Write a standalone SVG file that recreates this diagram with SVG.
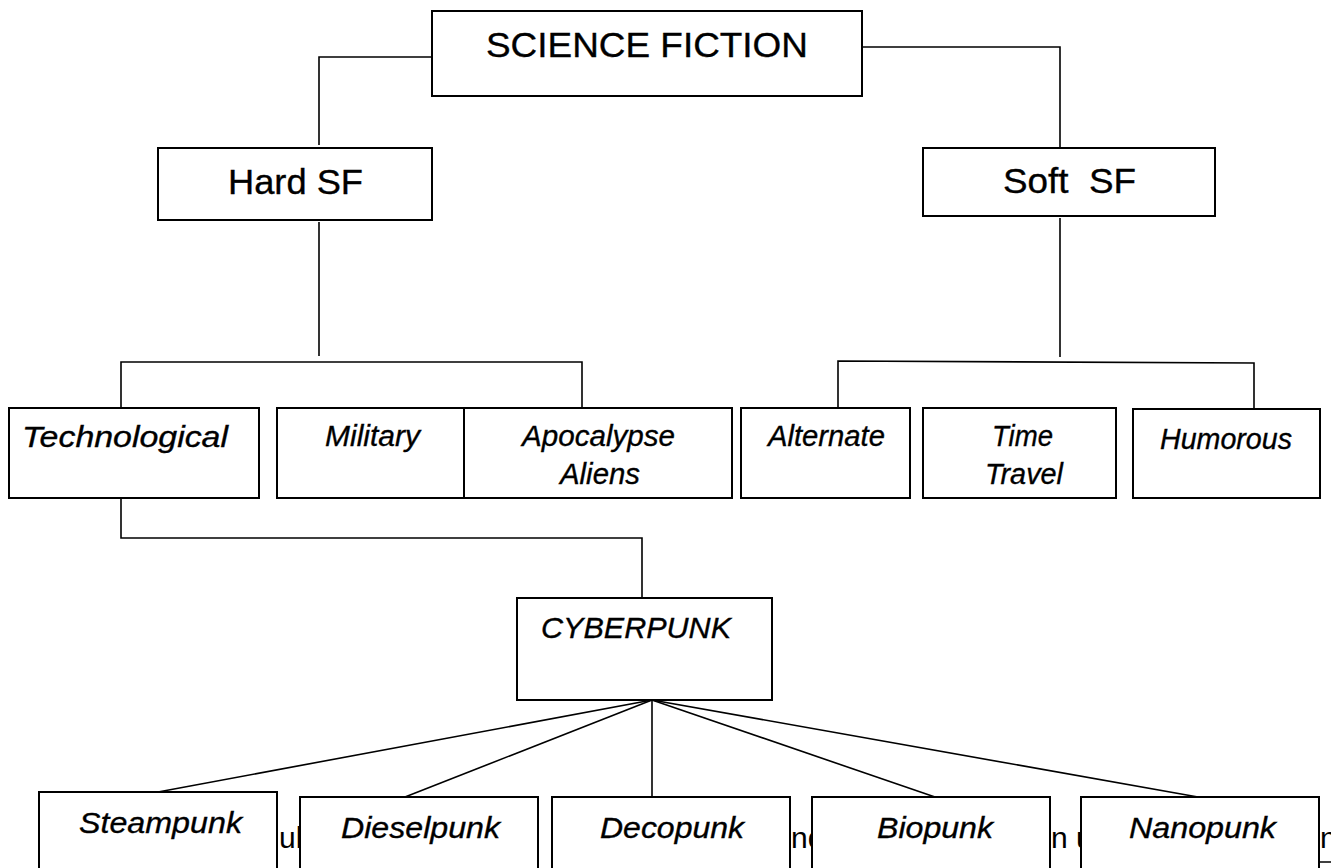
<svg xmlns="http://www.w3.org/2000/svg" width="1331" height="868" viewBox="0 0 1331 868">
<style>
.box{fill:#fff;stroke:#000;stroke-width:2}
.ln{fill:none;stroke:#000;stroke-width:1.6}
.t{font-family:"Liberation Sans",Arial,sans-serif;fill:#000;stroke:#000;stroke-width:0.35}
.big{font-size:35px}
.it{font-size:30px;font-style:italic}
.bg{font-family:"Liberation Sans",Arial,sans-serif;font-size:30px;fill:#000}
</style>
<rect width="1331" height="868" fill="#fff"/>
<g id="background-fragments">
<text class="bg" x="279" y="848">ul</text>
<text class="bg" x="791" y="848">nd</text>
<text class="bg" x="1051" y="848" xml:space="preserve">n u</text>
<text class="bg" x="1320" y="848">n</text>
<line x1="1319" y1="862" x2="1331" y2="862" stroke="#000" stroke-width="1.5"/>
</g>
<g id="connectors">
<polyline class="ln" points="432,57 319,57 319,145"/>
<polyline class="ln" points="861,47 1060,47 1060,148"/>
<line class="ln" x1="319" y1="222" x2="319" y2="356"/>
<polyline class="ln" points="121,408 121,362 582,362 582,408"/>
<line class="ln" x1="1060" y1="218" x2="1060" y2="357"/>
<polyline class="ln" points="838,408 838,361 1254,363 1254,408"/>
<polyline class="ln" points="121,498 121,538 642,538 642,598"/>
<line class="ln" x1="652" y1="700" x2="158" y2="792"/>
<line class="ln" x1="652" y1="700" x2="405" y2="797"/>
<line class="ln" x1="652" y1="700" x2="652" y2="797"/>
<line class="ln" x1="652" y1="700" x2="935" y2="797"/>
<line class="ln" x1="652" y1="700" x2="1198" y2="797"/>
</g>
<g id="science-fiction"><rect class="box" x="432" y="11" width="430" height="85"/><text class="t big" x="486" y="57" textLength="322" lengthAdjust="spacingAndGlyphs">SCIENCE FICTION</text></g>
<g id="hard-sf"><rect class="box" x="158" y="148" width="274" height="72"/><text class="t big" x="228" y="194" textLength="135" lengthAdjust="spacingAndGlyphs">Hard SF</text></g>
<g id="soft-sf"><rect class="box" x="923" y="148" width="292" height="68"/><text class="t big" x="1003" y="193" textLength="133" lengthAdjust="spacingAndGlyphs" xml:space="preserve">Soft  SF</text></g>
<g id="technological"><rect class="box" x="9" y="408" width="250" height="90"/><text class="t it" x="22" y="447" textLength="206" lengthAdjust="spacingAndGlyphs">Technological</text></g>
<g id="military"><rect class="box" x="277" y="408" width="187" height="90"/><text class="t it" x="325" y="446" textLength="95" lengthAdjust="spacingAndGlyphs">Military</text></g>
<g id="apocalypse-aliens"><rect class="box" x="464" y="408" width="268" height="90"/><text class="t it" x="522" y="446" textLength="153" lengthAdjust="spacingAndGlyphs">Apocalypse</text><text class="t it" x="560" y="484" textLength="80" lengthAdjust="spacingAndGlyphs">Aliens</text></g>
<g id="alternate"><rect class="box" x="741" y="408" width="169" height="90"/><text class="t it" x="768" y="446" textLength="117" lengthAdjust="spacingAndGlyphs">Alternate</text></g>
<g id="time-travel"><rect class="box" x="923" y="408" width="193" height="90"/><text class="t it" x="992" y="446" textLength="61" lengthAdjust="spacingAndGlyphs">Time</text><text class="t it" x="985" y="484" textLength="78" lengthAdjust="spacingAndGlyphs">Travel</text></g>
<g id="humorous"><rect class="box" x="1133" y="409" width="187" height="89"/><text class="t it" x="1160" y="449" textLength="132" lengthAdjust="spacingAndGlyphs">Humorous</text></g>
<g id="cyberpunk"><rect class="box" x="517" y="598" width="255" height="102"/><text class="t it" x="541" y="638" textLength="190" lengthAdjust="spacingAndGlyphs">CYBERPUNK</text></g>
<g id="steampunk"><rect class="box" x="39" y="792" width="238" height="90"/><text class="t it" x="79" y="833" textLength="163" lengthAdjust="spacingAndGlyphs">Steampunk</text></g>
<g id="dieselpunk"><rect class="box" x="300" y="797" width="238" height="90"/><text class="t it" x="341" y="838" textLength="159" lengthAdjust="spacingAndGlyphs">Dieselpunk</text></g>
<g id="decopunk"><rect class="box" x="552" y="797" width="238" height="90"/><text class="t it" x="600" y="838" textLength="144" lengthAdjust="spacingAndGlyphs">Decopunk</text></g>
<g id="biopunk"><rect class="box" x="812" y="797" width="238" height="90"/><text class="t it" x="877" y="838" textLength="116" lengthAdjust="spacingAndGlyphs">Biopunk</text></g>
<g id="nanopunk"><rect class="box" x="1081" y="797" width="238" height="90"/><text class="t it" x="1129" y="838" textLength="147" lengthAdjust="spacingAndGlyphs">Nanopunk</text></g>
</svg>
